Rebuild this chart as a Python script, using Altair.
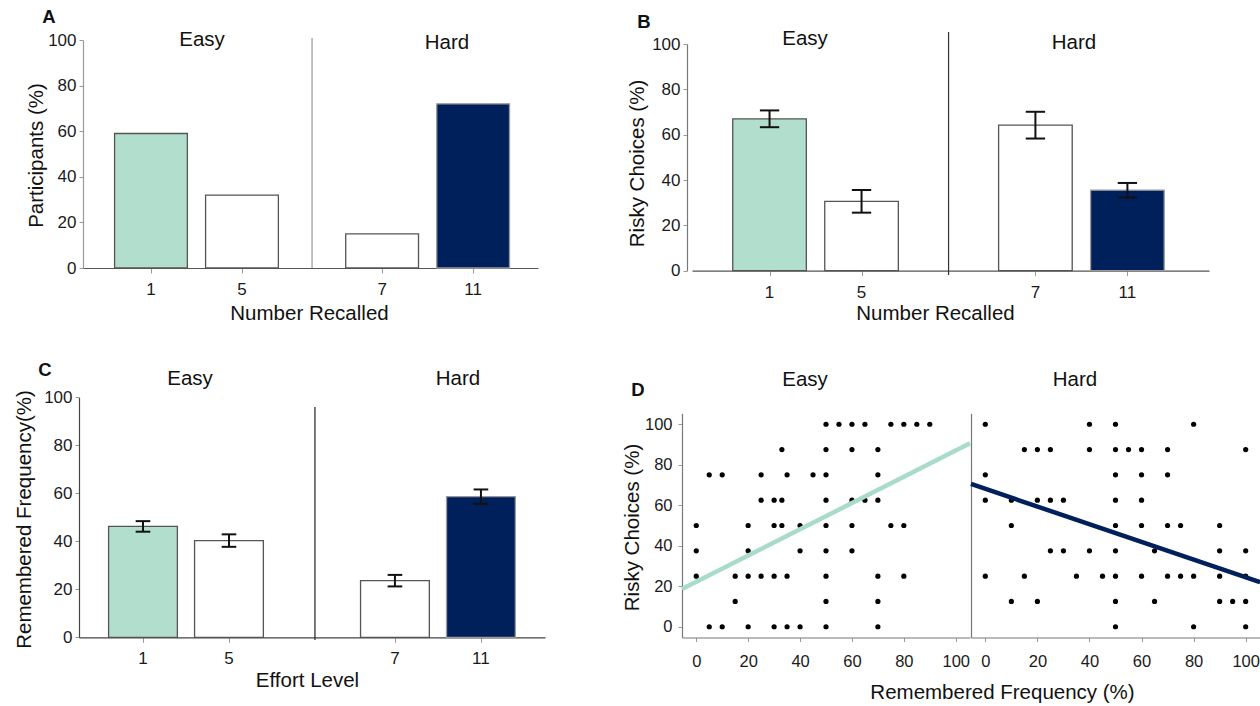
import altair as alt
import pandas as pd

# ---------------------------------------------------------------- data
# Bar categories: number recalled / effort level (1 and 5 = Easy, 7 and 11 = Hard)
levels = ["1", "5", "7", "11"]

# Panel A: participants (%) per number recalled
participants = [59, 32, 15, 72]

# Panel B: risky choices (%) per number recalled, with error bars
risky_mean = [67.0, 30.6, 64.2, 35.5]
risky_err = [3.7, 5.0, 5.9, 3.2]

# Panel C: remembered frequency (%) per effort level, with error bars
remembered_mean = [46.2, 40.3, 23.6, 58.6]
remembered_err = [2.2, 2.6, 2.4, 3.0]

# Panel D: one point per participant (remembered frequency %, risky choices %)
easy_freq = [
    50, 55, 60, 65, 75, 80, 85, 90,
    33, 50, 60, 70,
    5, 10, 25, 35, 45, 50, 70,
    25, 30, 33, 50, 60, 65, 70,
    0, 20, 30, 33, 40, 50, 60, 75, 80,
    0, 20, 40, 50, 60,
    0, 15, 20, 25, 30, 35, 50, 70, 80,
    15, 50, 70,
    5, 10, 20, 30, 35, 40, 50, 70,
]
easy_risky = [
    100, 100, 100, 100, 100, 100, 100, 100,
    87.5, 87.5, 87.5, 87.5,
    75, 75, 75, 75, 75, 75, 75,
    62.5, 62.5, 62.5, 62.5, 62.5, 62.5, 62.5,
    50, 50, 50, 50, 50, 50, 50, 50, 50,
    37.5, 37.5, 37.5, 37.5, 37.5,
    25, 25, 25, 25, 25, 25, 25, 25, 25,
    12.5, 12.5, 12.5,
    0, 0, 0, 0, 0, 0, 0, 0,
]
hard_freq = [
    0, 40, 50, 80,
    15, 20, 25, 40, 50, 55, 60, 70, 100,
    0, 50, 60, 70,
    0, 10, 20, 25, 30, 50, 60,
    10, 50, 60, 70, 75, 90,
    25, 30, 40, 50, 65, 90, 100,
    0, 15, 35, 45, 50, 60, 70, 75, 80, 90, 100,
    10, 20, 50, 65, 90, 95, 100,
    50, 80, 100,
]
hard_risky = [
    100, 100, 100, 100,
    87.5, 87.5, 87.5, 87.5, 87.5, 87.5, 87.5, 87.5, 87.5,
    75, 75, 75, 75,
    62.5, 62.5, 62.5, 62.5, 62.5, 62.5, 62.5,
    50, 50, 50, 50, 50, 50,
    37.5, 37.5, 37.5, 37.5, 37.5, 37.5, 37.5,
    25, 25, 25, 25, 25, 25, 25, 25, 25, 25, 25,
    12.5, 12.5, 12.5, 12.5, 12.5, 12.5, 12.5,
    0, 0, 0,
]

# Regression lines, evaluated at both ends of the frequency axis
fit_freq = [-5.5, 105.5]
easy_fit = [18.6, 90.6]
hard_fit = [70.5, 22.0]

# ---------------------------------------------------------------- style
FONT = "Liberation Sans"
NARROW = "Liberation Sans Narrow, Liberation Sans"
TEAL = "#b2decd"
TEAL_LINE = "#a9dcc8"
NAVY = "#00205b"
W, H = 1260, 706
BAR_HALF = 0.4
PCT_TICKS = [0, 20, 40, 60, 80, 100]

anchor = pd.DataFrame({"n": [0]})


def make_axis(**kw):
    opts = dict(grid=False, labelFont=FONT, labelFontSize=17, labelColor="#1a1a1a",
                titleFont=FONT, titleFontSize=20.5, titleFontWeight="normal",
                titleColor="#111", tickColor="#999", tickSize=4, tickWidth=1,
                domainWidth=1.2, labelFlush=False, labelOverlap=False)
    opts.update(kw)
    return alt.Axis(**opts)


def bar_panel(values, errors, slots, x_domain, x_range, y_range, y_axis_x,
              sep_slot, sep_span, sep_color, x_title, x_title_at, y_title,
              y_title_at, x_dom_color, y_dom_color, cap_half=0.1):
    """Unit charts of one bar panel; every unit carries the same explicit scales."""
    df = pd.DataFrame({"level": levels, "value": values, "pos": slots})
    df["left"] = df["pos"] - BAR_HALF
    df["right"] = df["pos"] + BAR_HALF

    xs = alt.Scale(domain=x_domain, range=x_range, zero=False, nice=False)
    ys = alt.Scale(domain=[0, 100], range=y_range, zero=False, nice=False)

    x_axis = make_axis(orient="bottom", offset=y_range[0] - H,
                       values=[float(s) for s in slots], labels=False,
                       tickSize=5, domainColor=x_dom_color,
                       title=x_title, titleX=x_title_at[0],
                       titleY=x_title_at[1] - y_range[0],
                       titleBaseline="middle", titleAlign="center")
    y_axis = make_axis(orient="left", offset=-y_axis_x, values=PCT_TICKS,
                       labelPadding=3, domainColor=y_dom_color,
                       title=y_title, titleX=y_title_at[0] - y_axis_x,
                       titleY=y_title_at[1], titleBaseline="middle",
                       titleAlign="center")

    sep = alt.Chart(anchor).mark_rule(color=sep_color, strokeWidth=1.2).encode(
        x=alt.XDatum(sep_slot, type="quantitative", scale=xs, axis=None),
        y=alt.value(sep_span[0]), y2=alt.value(sep_span[1]),
    )
    bars = alt.Chart(df).mark_bar(strokeWidth=1.3).encode(
        x=alt.X("left:Q", scale=xs, axis=x_axis),
        x2="right:Q",
        y=alt.Y("value:Q", scale=ys, axis=y_axis),
        y2=alt.datum(0),
        fill=alt.Fill("level:N", legend=None,
                      scale=alt.Scale(domain=levels, range=[TEAL, "white", "white", NAVY])),
        stroke=alt.Stroke("level:N", legend=None,
                          scale=alt.Scale(domain=levels, range=["#555", "#555", "#555", "#9a9a9a"])),
    )
    # category names under the x ticks
    tick_text = alt.Chart(df).mark_text(
        font=FONT, fontSize=17, color="#1a1a1a", align="center", baseline="middle",
    ).encode(
        x=alt.X("pos:Q", scale=xs, axis=None),
        y=alt.value(y_range[0] + 22),
        text="level:N",
    )
    units = [sep, bars, tick_text]
    if errors is not None:
        df["lo"] = df["value"] - pd.Series(errors)
        df["hi"] = df["value"] + pd.Series(errors)
        df["cap_l"] = df["pos"] - cap_half
        df["cap_r"] = df["pos"] + cap_half
        err = alt.Chart(df).mark_rule(color="#111", strokeWidth=2)
        units += [
            err.encode(x=alt.X("pos:Q", scale=xs, axis=None),
                       y=alt.Y("lo:Q", scale=ys, axis=None), y2="hi:Q"),
            err.encode(x=alt.X("cap_l:Q", scale=xs, axis=None), x2="cap_r:Q",
                       y=alt.Y("hi:Q", scale=ys, axis=None)),
            err.encode(x=alt.X("cap_l:Q", scale=xs, axis=None), x2="cap_r:Q",
                       y=alt.Y("lo:Q", scale=ys, axis=None)),
        ]
    return units


panel_a = bar_panel(participants, None, [1, 2, 3.54, 4.54], [0.253, 5.253],
                    [83, 538], [268, 40], 83, 2.77, [38, 268], "#999",
                    "Number Recalled", (309, 313), "Participants (%)", (36, 155),
                    "#555", "#999")
panel_b = bar_panel(risky_mean, risky_err, [1, 2, 3.89, 4.89], [0.157, 5.777],
                    [692, 1209], [270.7, 44], 687, 2.946, [32, 275], "#333",
                    "Number Recalled", (935, 313), "Risky Choices (%)", (637, 163),
                    "#555", "#777", cap_half=0.105)
panel_c = bar_panel(remembered_mean, remembered_err, [1, 2, 3.93, 4.93], [0.256, 5.675],
                    [79, 545], [637.3, 397.3], 79, 3.0, [407, 640], "#222",
                    "Effort Level", (307, 680), "Remembered Frequency(%)", (24, 519),
                    "#444", "#444", cap_half=0.085)

# ---------------------------------------------------------------- panel D
d_y = alt.Scale(domain=[-5.3, 105.4], range=[637.5, 413.3], zero=False, nice=False)
easy_x = alt.Scale(domain=[-5.5, 105.5], range=[682, 970], zero=False, nice=False)
hard_x = alt.Scale(domain=[-5.5, 105.5], range=[971, 1260], zero=False, nice=False)


def scatter_panel(freq, risky, fit, line_color, xs, x_axis, y_axis):
    pts = pd.DataFrame({"freq": freq, "risky": risky})
    fit_df = pd.DataFrame({"freq": fit_freq, "risky": fit})
    dots = alt.Chart(pts).mark_circle(size=27, color="black", opacity=1).encode(
        x=alt.X("freq:Q", scale=xs, axis=x_axis),
        y=alt.Y("risky:Q", scale=d_y, axis=y_axis),
    )
    line = alt.Chart(fit_df).mark_line(color=line_color, strokeWidth=4.5).encode(
        x=alt.X("freq:Q", scale=xs, axis=None),
        y=alt.Y("risky:Q", scale=d_y, axis=None),
    )
    return [dots, line]


d_x_offset = 637.5 - H
d_easy = scatter_panel(
    easy_freq, easy_risky, easy_fit, TEAL_LINE, easy_x,
    make_axis(orient="bottom", offset=d_x_offset, values=PCT_TICKS,
              labelFont=NARROW, labelFontSize=16.5, labelPadding=12,
              domainColor="#777", title="Remembered Frequency (%)",
              titleX=1002, titleY=54.5, titleBaseline="middle", titleAlign="center"),
    make_axis(orient="left", offset=-682, values=PCT_TICKS, labelFontSize=16.5,
              labelPadding=6, domainColor="#777", title="Risky Choices (%)",
              titleX=-50, titleY=527, titleBaseline="middle", titleAlign="center"),
)
d_hard = scatter_panel(
    hard_freq, hard_risky, hard_fit, NAVY, hard_x,
    make_axis(orient="bottom", offset=d_x_offset, values=PCT_TICKS,
              labelFont=NARROW, labelFontSize=16.5, labelPadding=12,
              domainColor="#777", title=""),
    make_axis(orient="left", offset=-971, values=PCT_TICKS, ticks=False,
              labels=False, domainColor="#777", title=""),
)


# ---------------------------------------------------------------- annotations
def note(text, x, y, size=20.5, weight="normal"):
    return alt.Chart(anchor).mark_text(
        text=text, font=FONT, fontSize=size, fontWeight=weight, color="#111",
        align="center", baseline="middle",
    ).encode(x=alt.value(x), y=alt.value(y))


notes = [
    note("A", 49, 17, 18.5, "bold"), note("Easy", 202, 40), note("Hard", 447, 43),
    note("B", 644, 22, 18.5, "bold"), note("Easy", 805, 39), note("Hard", 1074, 43),
    note("C", 45, 370, 18.5, "bold"), note("Easy", 190, 379), note("Hard", 458, 379),
    note("D", 638, 390, 18.5, "bold"), note("Easy", 805, 380), note("Hard", 1075, 380),
]

chart = (
    alt.layer(*panel_a, *panel_b, *panel_c, *d_easy, *d_hard, *notes)
    .resolve_scale(x="independent", y="independent")
    .properties(width=W, height=H, autosize="none", padding=0, background="white")
    .configure_view(strokeWidth=0)
)

chart.save("out.html", embed_options={"renderer": "svg", "actions": False})
